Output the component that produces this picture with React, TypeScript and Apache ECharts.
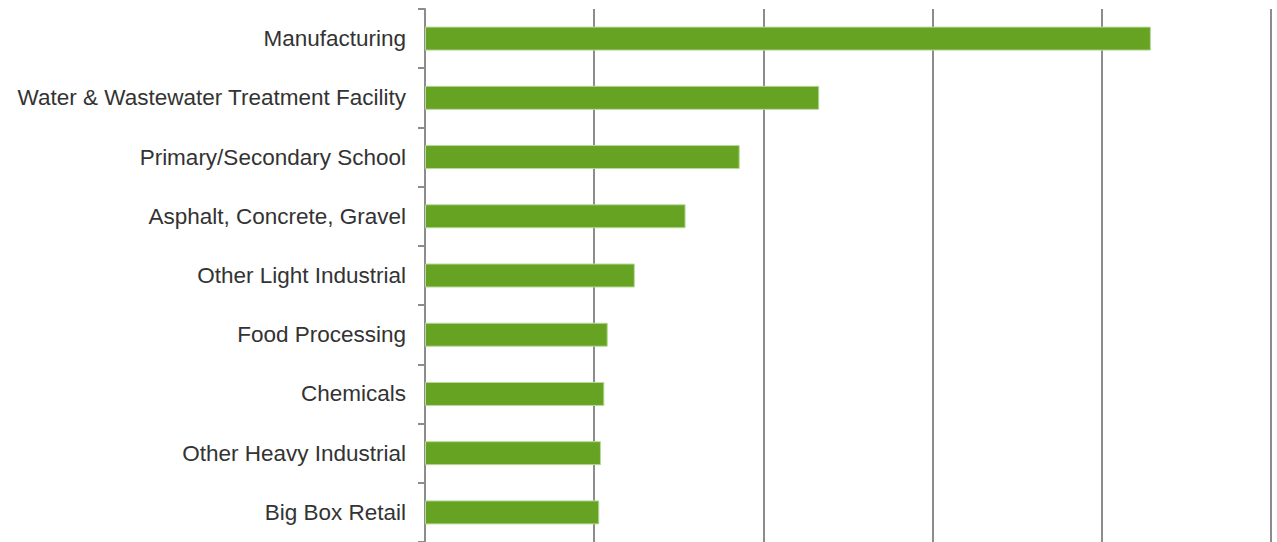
import React, { useEffect, useRef } from "react";
import * as echarts from "echarts";

const categories = [
  "Manufacturing",
  "Water & Wastewater Treatment Facility",
  "Primary/Secondary School",
  "Asphalt, Concrete, Gravel",
  "Other Light Industrial",
  "Food Processing",
  "Chemicals",
  "Other Heavy Industrial",
  "Big Box Retail",
];

const values = [4.29, 2.33, 1.86, 1.54, 1.24, 1.08, 1.06, 1.04, 1.03];

const xMin = 0;
const xMax = 5;
const xInterval = 1;

export default function App() {
  const ref = useRef<HTMLDivElement>(null);

  useEffect(() => {
    if (!ref.current) return;
    const chart = echarts.init(ref.current, null, { renderer: "svg" });
    chart.setOption({
      animation: false,
      backgroundColor: "#ffffff",
      grid: {
        left: 425,
        right: 6,
        top: 9,
        bottom: 0,
        containLabel: false,
        outerBoundsMode: "none",
      },
      xAxis: {
        type: "value",
        min: xMin,
        max: xMax,
        interval: xInterval,
        axisLabel: { show: false },
        axisLine: { show: false },
        axisTick: { show: false },
        splitLine: { show: true, lineStyle: { color: "#8c8c8c", width: 2 } },
      },
      yAxis: {
        type: "category",
        inverse: true,
        data: categories,
        axisLine: { show: true, lineStyle: { color: "#8c8c8c", width: 2 } },
        axisTick: { show: true, length: 7, lineStyle: { color: "#8c8c8c", width: 2 } },
        axisLabel: {
          margin: 19,
          color: "#333333",
          fontSize: 22.5,
          padding: [3, 0, 0, 0],
          fontFamily: "'Liberation Sans', Arial, sans-serif",
        },
      },
      series: [
        {
          type: "bar",
          data: values,
          barWidth: 24,
          itemStyle: { color: "#66a323", borderColor: "#b9d89a", borderWidth: 1 },
        },
      ],
    });
    return () => chart.dispose();
  }, []);

  return (
    <div
      ref={ref}
      style={{ position: "fixed", left: 0, top: 0, width: 1277, height: 542 }}
    />
  );
}
